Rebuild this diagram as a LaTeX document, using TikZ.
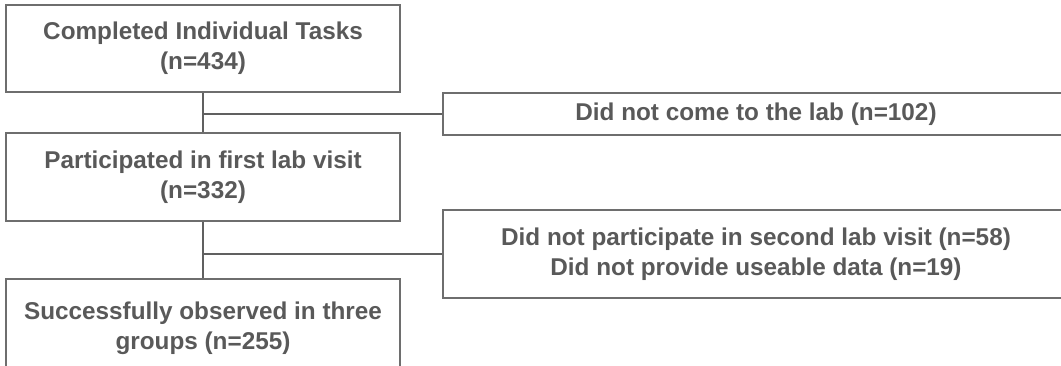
\documentclass[tikz,border=0pt]{standalone}
\usepackage{fontspec}
\setmainfont{Liberation Sans}
\definecolor{txtgray}{HTML}{595959}
\definecolor{boxgray}{HTML}{6E6E6E}
\definecolor{linegray}{HTML}{606060}
\begin{document}
\begin{tikzpicture}[x=1pt,y=-1pt,
  box/.style={draw=boxgray, line width=1.8pt, text=txtgray, align=center,
    font=\fontsize{24.3}{30}\selectfont\bfseries, inner sep=0pt},
  conn/.style={draw=linegray, line width=1.1pt}]
\useasboundingbox (0,0) rectangle (1061,366);
\clip (0,0) rectangle (1061,366);
\node[box, minimum width=394, minimum height=87] (b1) at (203,48.5)
  {Completed Individual Tasks\\(n=434)};
\node[box, minimum width=394, minimum height=88] (b2) at (203,177)
  {Participated in first lab visit\\(n=332)};
\node[box, minimum width=394, minimum height=98] (b3) at (203,328)
  {Successfully observed in three\\groups (n=255)};
\node[box, minimum width=626, minimum height=42] (r1) at (756,114)
  {Did not come to the lab (n=102)};
\node[box, minimum width=626, minimum height=88] (r2) at (756,254)
  {Did not participate in second lab visit (n=58)\\Did not provide useable data (n=19)};
\draw[conn] (b1.south) -- (b2.north);
\draw[conn] (b1.south |- r1.west) -- (r1.west);
\draw[conn] (b2.south) -- (b3.north);
\draw[conn] (b2.south |- r2.west) -- (r2.west);
\end{tikzpicture}
\end{document}
